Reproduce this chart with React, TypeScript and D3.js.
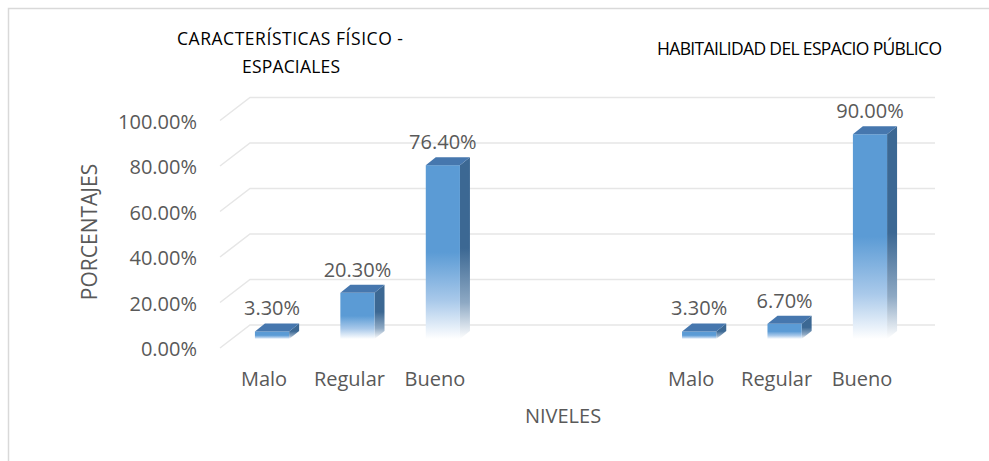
import React from 'react';
import * as d3 from 'd3';

// chart values
const levels = ['Malo', 'Regular', 'Bueno'];
const fisicoValues = [3.3, 20.3, 76.4];
const habitValues = [3.3, 6.7, 90.0];
const yTicks = [0, 20, 40, 60, 80, 100];
const titleFisico = ['CARACTERÍSTICAS FÍSICO -', 'ESPACIALES'];
const titleHabit = 'HABITAILIDAD DEL ESPACIO PÚBLICO';
const xTitle = 'NIVELES';
const yTitle = 'PORCENTAJES';

const W = 989;
const H = 461;
const FONT = '"Open Sans", "Liberation Sans", sans-serif';
const TEXT = '#595959';
const GRID = '#e6e6e6';

// 3D depth offsets
const WALL_DX = 30, WALL_DY = -23; // floor depth (front -> back wall)
const BAR_DX = 10, BAR_DY = -8;    // bar thickness
const BAR_FRONT = 14;              // bar front face sits this far below back wall line

const App = () => {
  const slots = [
    ...levels.map(l => 'f-' + l),
    'gap-a', 'gap-b',
    ...levels.map(l => 'h-' + l),
  ];
  const bars = [
    ...levels.map((l, i) => ({ key: 'f-' + l, label: l, value: fisicoValues[i] })),
    ...levels.map((l, i) => ({ key: 'h-' + l, label: l, value: habitValues[i] })),
  ];

  // back wall value scale
  const y = d3.scaleLinear().domain([0, 100]).range([325, 97.5]);

  // bar front-face band positions
  const x = d3.scaleBand()
    .domain(slots)
    .range([229.3, 912.7])
    .paddingInner(0.6)
    .paddingOuter(0.3);

  const wallLeft = 250;
  const wallRight = 935;

  return (
    <svg width={W} height={H} style={{ display: 'block', position: 'absolute', left: 0, top: 0 }}
      fontFamily={FONT}>
      <defs>
        <linearGradient id="gFront" x1="0" y1="0" x2="0" y2="1">
          <stop offset="0" stopColor="#5b9bd5" />
          <stop offset="0.5" stopColor="#5b9bd5" />
          <stop offset="0.78" stopColor="#a9c9ea" />
          <stop offset="1" stopColor="#ffffff" />
        </linearGradient>
        <linearGradient id="gSide" x1="0" y1="0" x2="0" y2="1">
          <stop offset="0" stopColor="#3c6893" />
          <stop offset="0.5" stopColor="#3c6893" />
          <stop offset="0.8" stopColor="#8ea9c4" />
          <stop offset="1" stopColor="#ffffff" />
        </linearGradient>
      </defs>
      <rect x={0} y={0} width={W} height={H} fill="#fff" />
      {/* frame */}
      <path d={`M8.5,${H} V8.5 H${W}`} fill="none" stroke="#d9d9d9" strokeWidth={1.5} />

      {/* titles */}
      <text textAnchor="middle" fontSize={17.5} fill="#000">
        <tspan x={290} y={45} textLength={226} lengthAdjust="spacing">{titleFisico[0]}</tspan>
      </text>
      <text textAnchor="middle" fontSize={17.5} fill="#000">
        <tspan x={291} y={73} textLength={98} lengthAdjust="spacing">{titleFisico[1]}</tspan>
      </text>
      <text x={799.5} y={55} textAnchor="middle" fontSize={17.5} fill="#000"
        textLength={285} lengthAdjust="spacing">{titleHabit}</text>

      {/* gridlines: back wall + floor diagonal */}
      {yTicks.map(t => (
        <g key={t}>
          <path
            d={`M${wallLeft - WALL_DX},${y(t) - WALL_DY} L${wallLeft},${y(t)} H${wallRight}`}
            fill="none" stroke={GRID} strokeWidth={1.5} />
          <text x={197} y={y(t) + 31} textAnchor="end" fontSize={20} fill={TEXT}>
            {t.toFixed(2) + '%'}
          </text>
        </g>
      ))}

      {/* bars */}
      {bars.map(b => {
        const x0 = x(b.key)!;
        const bw = x.bandwidth();
        const yb = y(0) + BAR_FRONT;
        const yt = y(b.value) + BAR_FRONT;
        const h = yb - yt;
        return (
          <g key={b.key}>
            <path
              d={`M${x0 + bw},${yt} L${x0 + bw + BAR_DX},${yt + BAR_DY} V${yb + BAR_DY} L${x0 + bw},${yb} Z`}
              fill="url(#gSide)" />
            <rect x={x0} y={yt} width={bw} height={Math.max(h, 0.5)} fill="url(#gFront)" />
            <path
              d={`M${x0},${yt} L${x0 + BAR_DX},${yt + BAR_DY} H${x0 + bw + BAR_DX} L${x0 + bw},${yt} Z`}
              fill="#4677ae" />
            <text x={x0 + bw / 2} y={yt - 16} textAnchor="middle" fontSize={20} fill={TEXT}>
              {b.value.toFixed(2) + '%'}
            </text>
            <text x={x0 + bw / 2 - 8} y={386} textAnchor="middle" fontSize={20} fill={TEXT}>
              {b.label}
            </text>
          </g>
        );
      })}

      {/* axis titles */}
      <text x={563} y={423} textAnchor="middle" fontSize={20} fill={TEXT}>{xTitle}</text>
      <text transform={`translate(97,232) rotate(-90)`} textAnchor="middle" fontSize={21} fill={TEXT}>
        {yTitle}
      </text>
    </svg>
  );
};

export default App;
